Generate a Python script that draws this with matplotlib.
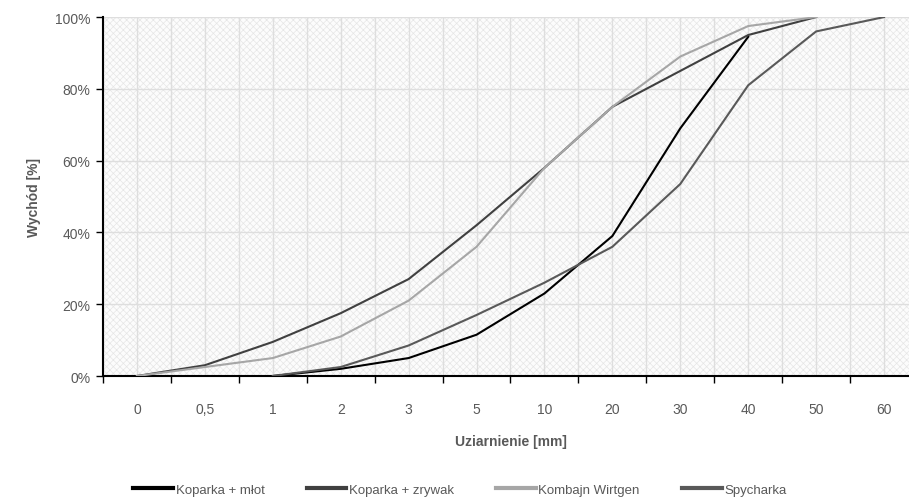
import numpy as np
import matplotlib
matplotlib.use('Agg')
import matplotlib.pyplot as plt
import matplotlib.ticker as ticker
from matplotlib.patches import Rectangle

plt.rcParams['font.family'] = ['Liberation Sans Narrow', 'Liberation Sans', 'DejaVu Sans']
plt.rcParams['hatch.linewidth'] = 0.5

# sieve sizes (category axis)
categories = ['0', '0,5', '1', '2', '3', '5', '10', '20', '30', '40', '50', '60']

nan = np.nan
koparka_mlot = [nan, nan, 0, 2, 5, 11.5, 23, 39, 69, 94.5, nan, nan]
koparka_zrywak = [0, 3, 9.5, 17.5, 27, 42, 58, 75, 85, 95, 100, nan]
kombajn_wirtgen = [0, 2.5, 5, 11, 21, 36, 58, 75, 89, 97.5, 100, nan]
spycharka = [nan, nan, 0, 2.5, 8.5, 17, 26, 36, 53.5, 81, 96, 100]

series = [
    ('Koparka + młot', koparka_mlot, '#000000'),
    ('Koparka + zrywak', koparka_zrywak, '#404040'),
    ('Kombajn Wirtgen', kombajn_wirtgen, '#a6a6a6'),
    ('Spycharka', spycharka, '#595959'),
]

fig = plt.figure(figsize=(9.09, 5.02), dpi=100)
ax = fig.add_axes([0.1133, 0.249, 0.8966, 0.715])

x = np.arange(len(categories))

# hatched plot-area background
ax.set_facecolor('#fcfcfc')
ax.add_patch(Rectangle((0, 0), 1, 1, transform=ax.transAxes, facecolor='none',
                       edgecolor='#e6e6e6', hatch='xxxxx', linewidth=0, zorder=0))

for name, vals, col in series:
    ax.plot(x, vals, color=col, lw=1.5, label=name, zorder=3)

ax.set_xlim(-0.5, len(categories) - 0.5)
ax.set_ylim(0, 100)

# ticks at category boundaries, labels at the centres
ax.set_xticks(np.arange(-0.5, len(categories) - 0.5, 1))
ax.set_xticklabels([])
ax.set_xticks(x, minor=True)
ax.set_xticklabels(categories, minor=True)
ax.tick_params(axis='x', which='major', length=5, width=1, color='black', direction='out')
ax.tick_params(axis='x', which='minor', length=0, pad=19, labelsize=10, labelcolor='#595959')

ax.yaxis.set_major_locator(ticker.MultipleLocator(20))
ax.yaxis.set_major_formatter(ticker.FuncFormatter(lambda v, p: f'{int(v)}%'))
ax.tick_params(axis='y', length=5, width=1, color='black', labelsize=10, labelcolor='#595959', pad=4)

ax.grid(which='both', axis='x', color='#dedede', lw=1, zorder=1)
ax.grid(which='major', axis='y', color='#dedede', lw=1, zorder=1)
ax.set_axisbelow(True)

for s in ['top', 'right']:
    ax.spines[s].set_visible(False)
ax.spines['left'].set_linewidth(1.5)
ax.spines['bottom'].set_linewidth(1.5)

ax.set_xlabel('Uziarnienie [mm]', fontsize=10, fontweight='bold', color='#595959', labelpad=13)
ax.set_ylabel('Wychód [%]', fontsize=10, fontweight='bold', color='#595959', labelpad=10)

fig.legend(loc='center', bbox_to_anchor=(0.506, 0.022), ncol=4, frameon=False,
           fontsize=9.5, labelcolor='#595959', handlelength=3, handletextpad=0.2,
           columnspacing=3.2)
leg = fig.legends[0]
for line in leg.get_lines():
    line.set_linewidth(3)

fig.savefig('out.png', dpi=100)
